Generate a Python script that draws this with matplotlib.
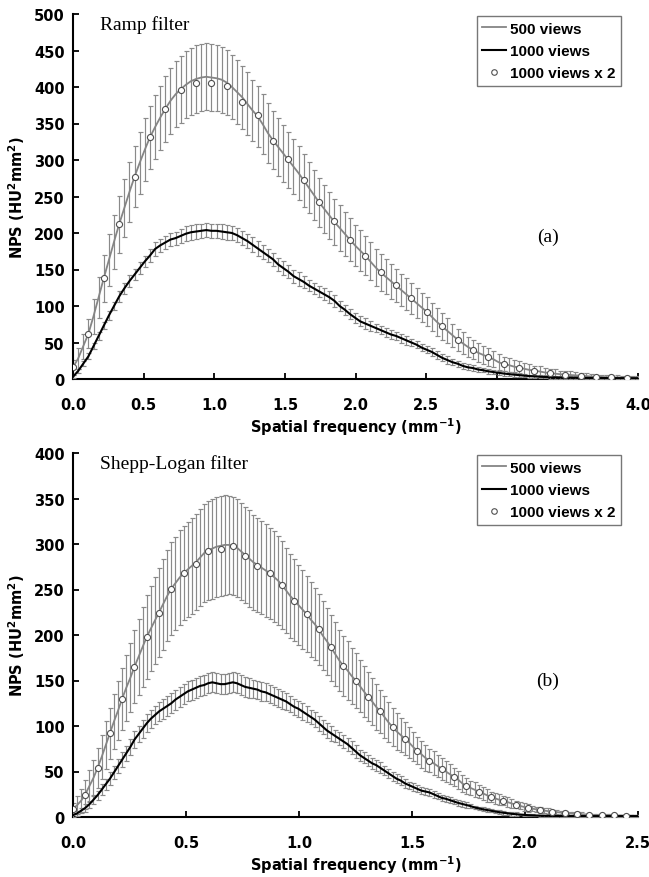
import numpy as np
import matplotlib
matplotlib.use("Agg")
import matplotlib.pyplot as plt
from matplotlib.lines import Line2D

# ---------------- Data: Ramp filter (a) ----------------
ramp_step = 0.0363  # mm^-1 between NPS samples
ramp_500 = [16, 28, 45, 62, 86, 112, 138, 163, 188, 212, 234, 256, 277, 296, 314, 331, 345, 358, 370, 381,
            390, 397, 403, 408, 411, 413, 414, 413, 412, 410, 406, 400, 393, 386, 377, 368, 360, 349, 337, 327,
            318, 309, 300, 291, 282, 272, 262, 252, 242, 233, 224, 215, 207, 199, 191, 183, 176, 169, 161, 153,
            146, 140, 134, 128, 122, 116, 110, 104, 98, 92, 85, 78, 72, 66, 60, 54, 49, 44, 40, 36,
            33, 30, 27, 23, 20.5, 19, 17, 15.5, 14, 12.5, 11.4, 10.3, 9, 8, 7.3, 6.6, 6, 5.5, 5, 4.6,
            4, 3.5, 3, 2.8, 2.5, 2.3, 2.2, 2.1, 2, 1.9, 1.8]
ramp_500_err = [10, 14, 17, 20, 24, 28, 32, 35, 37, 39, 40, 41, 42, 42, 43, 43, 44, 44, 45, 45,
                45, 46, 46, 46, 46, 46, 46, 46, 45, 45, 45, 44, 44, 43, 43, 42, 42, 41, 41, 40,
                40, 39, 39, 38, 37, 36, 35, 34, 34, 33, 32, 31, 31, 30, 29, 28, 28, 27, 26, 25,
                25, 24, 24, 23, 22, 22, 21, 21, 20, 20, 19, 19, 18, 17, 16, 15, 15, 14, 13, 13,
                12, 12, 11, 11, 10, 10, 9, 9, 8, 8, 7, 7, 6, 6, 6, 5, 5, 5, 4, 4,
                4, 4, 3, 3, 3, 3, 3, 2, 2, 2, 2]
ramp_1000 = [3, 11, 21, 31, 45, 59, 73, 87, 100, 113, 124, 134, 143, 152, 161, 169, 178, 183, 187, 191,
             193, 196, 199, 201, 202, 203, 204, 203, 203, 202, 201, 200, 197, 193, 189, 184, 179, 174, 169, 164,
             157, 152, 147, 141, 137, 133, 128, 124, 120, 116, 112, 107, 100, 95, 89, 84, 79, 76, 73, 70,
             67, 64, 61, 59, 56, 53, 50, 47, 43, 40, 37, 33, 29, 26, 23, 21, 18, 16, 15, 13,
             12, 10.5, 9.5, 8.5, 7.5, 6.7, 6, 5.3, 4.6, 4, 3.6, 3.2, 2.8, 2.5, 2.2, 2, 1.9, 1.8, 1.7, 1.6,
             1.5, 1.5, 1.4, 1.4, 1.3, 1.3, 1.2, 1.2, 1.2, 1.1, 1.1]
ramp_1000_err = [2, 3, 3, 4, 4, 5, 5, 6, 6, 7, 7, 8, 8, 8, 8, 9, 9, 9, 9, 9,
                 9, 10, 10, 10, 10, 10, 10, 10, 10, 10, 10, 10, 10, 10, 10, 10, 10, 10, 9, 9,
                 9, 9, 9, 9, 9, 8, 8, 8, 8, 8, 8, 8, 7, 7, 7, 7, 7, 7, 7, 6,
                 6, 6, 6, 6, 6, 6, 5, 5, 5, 5, 5, 5, 5, 5, 4, 4, 4, 4, 4, 4,
                 3, 3, 3, 3, 3, 3, 3, 3, 2, 2, 2, 2, 2, 2, 2, 2, 2, 2, 2, 1,
                 1, 1, 1, 1, 1, 1, 1, 1, 1, 1, 1]
ramp_1000x2 = [16, 61, 138, 212, 277, 331, 370, 396, 405, 405, 402, 379, 361, 326, 301, 273, 242, 216, 191, 169,
               146, 129, 111, 92, 72, 54, 40, 30, 20.5, 15.5, 11.4, 8, 6, 4.6, 3, 2.3, 2]

# ---------------- Data: Shepp-Logan filter (b) ----------------
sl_step = 0.01813
sl_500 = [9, 13, 18, 25, 34, 43, 54, 66, 79, 92, 105, 117, 130, 142, 153, 165, 176, 187, 198, 207,
          216, 225, 234, 243, 251, 257, 263, 268, 272, 276, 280, 285, 290, 293, 295, 297, 298, 299, 299, 298,
          296, 292, 288, 284, 280, 277, 274, 271, 268, 264, 260, 255, 249, 243, 238, 233, 228, 223, 217, 212,
          206, 199, 193, 186, 179, 172, 166, 161, 155, 150, 144, 138, 132, 127, 121, 116, 110, 104, 99, 94,
          90, 86, 82, 77, 73, 69, 65, 62, 59, 56, 53, 50, 47, 44, 41, 37, 34, 32, 30, 28,
          26, 24, 22, 20.5, 19, 18, 16.5, 15, 13.5, 12.3, 11, 10, 9.2, 8.4, 7.7, 7, 6.4, 5.9, 5.4, 4.9,
          4.4, 4, 3.6, 3.3, 3.1, 2.8, 2.6, 2.3, 2.1, 1.9, 1.8, 1.8, 1.8, 1.7, 1.6, 1.5, 1.4, 1.4, 1.3]
sl_500_err = [6, 10, 13, 16, 18, 20, 22, 24, 26, 28, 30, 32, 34, 36, 38, 40, 42, 44, 46, 47,
              48, 49, 50, 50, 51, 51, 52, 52, 52, 53, 53, 53, 54, 54, 55, 55, 55, 55, 54, 54,
              54, 53, 53, 53, 52, 52, 51, 51, 50, 50, 49, 48, 47, 46, 45, 44, 43, 42, 41, 40,
              39, 38, 37, 36, 35, 34, 33, 32, 31, 30, 29, 28, 27, 26, 25, 24, 23, 22, 21, 20,
              19, 18, 17, 16, 15, 15, 14, 13, 13, 12, 12, 11, 11, 10, 10, 9, 9, 8, 8, 7,
              7, 7, 6, 6, 6, 5, 5, 5, 4, 4, 4, 4, 3, 3, 3, 3, 3, 2, 2, 2,
              2, 2, 2, 2, 2, 1, 1, 1, 1, 1, 1, 1, 1, 1, 1, 1, 1, 1, 1]
sl_1000 = [2, 4, 7, 10, 14, 19, 24, 30, 36, 42, 49, 56, 63, 70, 77, 85, 91, 97, 103, 108,
           112, 116, 119, 122, 125, 129, 132, 135, 138, 140, 142, 144, 145, 147, 148, 147, 146, 146, 147, 148,
           147, 145, 143, 142, 141, 140, 138, 137, 135, 133, 131, 129, 127, 124, 121, 119, 116, 113, 110, 107,
           103, 99, 95, 92, 89, 86, 83, 80, 76, 72, 68, 65, 62, 59, 57, 54, 51, 48, 45, 42,
           40, 37, 35, 33, 31, 29, 28, 27, 25, 23, 21, 20, 18.5, 17, 15.5, 14.3, 13, 12, 10.5, 9.5,
           8.5, 7.7, 7, 6, 5.3, 4.7, 4, 3.5, 3.1, 2.7, 2.3, 2, 1.8, 1.6, 1.5, 1.4, 1.3, 1.2, 1.1, 1.1,
           1, 1, 1, 1, 1, 1, 1, 1, 1, 1, 1, 1, 1, 1, 1, 1, 1, 1, 1]
sl_1000_err = [2, 3, 3, 4, 4, 5, 5, 6, 6, 7, 7, 8, 8, 8, 9, 9, 9, 10, 10, 10,
               10, 10, 11, 11, 11, 11, 11, 11, 11, 11, 11, 11, 11, 11, 11, 11, 11, 11, 11, 11,
               11, 11, 11, 11, 10, 10, 10, 10, 10, 10, 10, 10, 9, 9, 9, 9, 9, 9, 8, 8,
               8, 8, 8, 8, 7, 7, 7, 7, 7, 7, 6, 6, 6, 6, 6, 6, 5, 5, 5, 5,
               5, 5, 4, 4, 4, 4, 4, 4, 4, 3, 3, 3, 3, 3, 3, 3, 3, 2, 2, 2,
               2, 2, 2, 2, 2, 2, 2, 2, 2, 1, 1, 1, 1, 1, 1, 1, 1, 1, 1, 1,
               1, 1, 1, 1, 1, 1, 1, 1, 1, 1, 1, 1, 1, 1, 1, 1, 1, 1, 1]
sl_1000x2 = [8.8, 24.5, 53.5, 92, 129.7, 164.5, 197.5, 224, 251, 268, 278, 292.6, 294.5, 298, 287, 276, 268, 255, 237.7, 223,
             206.6, 186.5, 166, 150, 131.5, 116, 98.5, 85.7, 73, 62, 52.7, 43.6, 34.4, 27.8, 21.6, 18, 13.2, 9.9, 7.7, 5.9,
             4.4, 3.3, 2.6, 1.8, 1.8, 1.5]

legend_labels = ["500 views", "1000 views", "1000 views x 2"]
panel_titles = ["Ramp filter", "Shepp-Logan filter"]
panel_tags = ["(a)", "(b)"]
xlabel = r"Spatial frequency (mm$^{\mathbf{-1}}$)"
ylabel = r"NPS (HU$^{\mathbf{2}}$mm$^{\mathbf{2}}$)"

# ---------------- Styling ----------------
GRAY_LINE = "#858585"
GRAY_ERR = "#8a8a8a"
plt.rcParams["font.family"] = ["DejaVu Sans"]
plt.rcParams["mathtext.default"] = "bf"

W, H = 649, 878
fig = plt.figure(figsize=(W / 100, H / 100), dpi=100)


def px_axes(left, top, right, bottom):
    return fig.add_axes([left / W, 1 - bottom / H, (right - left) / W, (bottom - top) / H])


ax_a = px_axes(73, 15, 638, 380)
ax_b = px_axes(73, 454, 638, 818)

panels = [
    (ax_a, ramp_step, ramp_500, ramp_500_err, ramp_1000, ramp_1000_err, ramp_1000x2, 4.0, 500),
    (ax_b, sl_step, sl_500, sl_500_err, sl_1000, sl_1000_err, sl_1000x2, 2.5, 400),
]

for i, (ax, step, v500, e500, v1000, e1000, vx2, xmax, ymax) in enumerate(panels):
    f500 = np.arange(len(v500)) * step
    f1000 = np.arange(len(v1000)) * step
    fx2 = np.arange(len(vx2)) * step * 3

    ax.errorbar(f500, v500, yerr=e500, color=GRAY_LINE, lw=1.3, ecolor=GRAY_ERR,
                elinewidth=0.85, capsize=1.8, capthick=0.85, zorder=2)
    ax.errorbar(f1000, v1000, yerr=e1000, color="black", lw=1.5, ecolor=GRAY_ERR,
                elinewidth=0.85, capsize=1.8, capthick=0.85, zorder=3)
    ax.plot(fx2, vx2, "o", mfc="white", mec="#505050", ms=4.4, mew=0.8, ls="none", zorder=4)

    ax.set_xlim(0, xmax)
    ax.set_ylim(0, ymax)
    ax.set_xticks(np.arange(0, xmax + 0.01, 0.5))
    ax.set_xticklabels([f"{t:.1f}" for t in np.arange(0, xmax + 0.01, 0.5)])
    ax.set_yticks(np.arange(0, ymax + 1, 50))
    for s in ["top", "right"]:
        ax.spines[s].set_visible(False)
    for s in ["left", "bottom"]:
        ax.spines[s].set_linewidth(1.5)
    ax.tick_params(axis="both", direction="in", length=4, width=1.3, labelsize=10.5)
    ax.tick_params(axis="x", pad=13)
    ax.tick_params(axis="y", pad=6)
    for lab in ax.get_xticklabels() + ax.get_yticklabels():
        lab.set_fontweight("bold")

    ax.set_xlabel(xlabel, fontsize=10.5, fontweight="bold", labelpad=2)
    ax.set_ylabel(ylabel, fontsize=10.5, fontweight="bold")
    ax.yaxis.set_label_coords(-0.082, 0.5)

    ax.text(0.048, 0.997, panel_titles[i], transform=ax.transAxes, ha="left", va="top",
            fontsize=14, family="Liberation Serif")
    ax.text(0.84, 0.39 if i == 0 else 0.376, panel_tags[i], transform=ax.transAxes,
            ha="center", va="center", fontsize=14, family="Liberation Serif")

    handles = [
        Line2D([], [], color=GRAY_LINE, lw=1.3),
        Line2D([], [], color="black", lw=1.5),
        Line2D([], [], marker="o", ls="none", mfc="white", mec="#505050", ms=4, mew=0.8),
    ]
    leg = ax.legend(handles, legend_labels, loc="upper right", bbox_to_anchor=(0.970, 0.994),
                    borderaxespad=0, frameon=True, fancybox=False, handlelength=1.55,
                    handletextpad=0.3, labelspacing=0.55, borderpad=0.35,
                    prop={"family": "Liberation Sans", "weight": "bold", "size": 11})
    leg.get_frame().set_edgecolor("#555555")
    leg.get_frame().set_linewidth(1.0)

fig.savefig("out.png", dpi=100)
